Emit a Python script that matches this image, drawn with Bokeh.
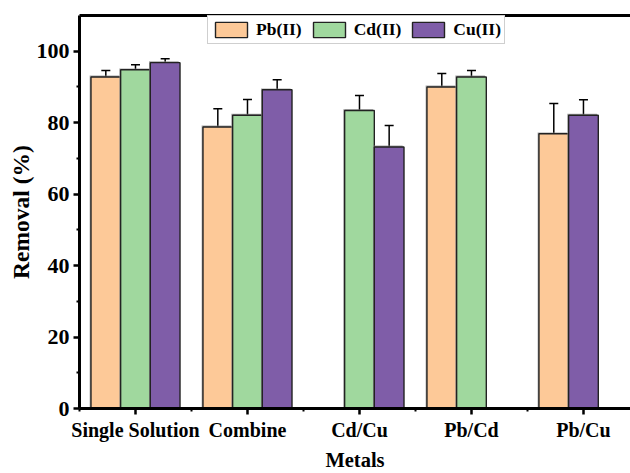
from bokeh.plotting import figure
from bokeh.models import (ColumnDataSource, FixedTicker, LinearAxis, Range1d,
                          Whisker, TeeHead, Legend, LegendItem)
from bokeh.embed import file_html
from bokeh.resources import INLINE

# Removal efficiency (%) per metal for each solution type, with error bars
categories = ["Single Solution", "Combine", "Cd/Cu", "Pb/Cd", "Pb/Cu"]
series_names = ["Pb(II)", "Cd(II)", "Cu(II)"]
pb_removal = [92.8, 78.8, None, 90.0, 76.9]
pb_error = [1.8, 5.1, None, 3.8, 8.5]
cd_removal = [94.8, 82.1, 83.4, 92.8, None]
cd_error = [1.4, 4.4, 4.2, 1.8, None]
cu_removal = [96.8, 89.2, 73.2, None, 82.1]
cu_error = [1.1, 2.8, 6.0, None, 4.3]
y_ticks = [0, 20, 40, 60, 80, 100]
y_minor_ticks = [10, 30, 50, 70, 90]

colors = ["#FDC998", "#A0D89E", "#7F5DA8"]
FONT = "Liberation Serif"
BAR_W = 0.265

values = [pb_removal, cd_removal, cu_removal]
errors = [pb_error, cd_error, cu_error]

# bars fill slots left to right; groups without Pb start at the centre slot
slot_of = [dict() for _ in series_names]
for ci in range(len(categories)):
    present = [si for si in range(3) if values[si][ci] is not None]
    start = -1 if values[0][ci] is not None else 0
    for k, si in enumerate(present):
        slot_of[si][ci] = start + k

p = figure(width=630, height=473,
           x_range=Range1d(0.5, 5.42), y_range=Range1d(0, 110),
           output_backend="svg", toolbar_location=None,
           min_border_left=79, min_border_right=0,
           min_border_top=15, min_border_bottom=65)
p.grid.visible = False
p.outline_line_color = None
p.background_fill_color = "white"

# small drop-shadow offsets (about 1.3 px up-left)
SHADOW_DX = -0.012
SHADOW_DY = 0.38

renderers = []
for si in range(3):
    xs, tops, ups, los = [], [], [], []
    for ci in range(len(categories)):
        v = values[si][ci]
        if v is None:
            continue
        x = (ci + 1) + slot_of[si][ci] * BAR_W
        xs.append(x)
        tops.append(v)
        ups.append(v + errors[si][ci])
        los.append(v - errors[si][ci])
    src = ColumnDataSource(dict(x=xs, top=tops, upper=ups, lower=los,
                                sx=[x + SHADOW_DX for x in xs],
                                stop=[t + SHADOW_DY for t in tops]))
    p.vbar(x="sx", top="stop", bottom=0, width=BAR_W, source=src,
           fill_color="#8a8a8a", fill_alpha=0.75, line_color=None)
    r = p.vbar(x="x", top="top", bottom=0, width=BAR_W, source=src,
               fill_color=colors[si], line_color="#222222", line_width=1.4)
    renderers.append(r)
    w = Whisker(source=src, base="x", upper="upper", lower="lower",
                line_color="black", line_width=1.5,
                upper_head=TeeHead(size=9, line_color="black", line_width=1.5),
                lower_head=TeeHead(size=9, line_color="black", line_width=1.5))
    p.add_layout(w)

# axes
for ax in (p.xaxis[0], p.yaxis[0]):
    ax.axis_line_width = 3
    ax.axis_line_color = "black"
    ax.major_tick_line_width = 2.5
    ax.major_tick_in = 0
    ax.major_tick_out = 6
    ax.minor_tick_line_width = 2
    ax.minor_tick_in = 0
    ax.minor_tick_out = 3
    ax.major_label_text_font = FONT
    ax.major_label_text_font_style = "bold"
    ax.major_label_text_color = "black"
    ax.axis_label_text_font = FONT
    ax.axis_label_text_font_style = "bold"
    ax.axis_label_text_color = "black"

p.xaxis.ticker = FixedTicker(ticks=list(range(1, len(categories) + 1)),
                             minor_ticks=[i + 0.5 for i in range(len(categories) + 1)])
p.xaxis.major_label_overrides = {i + 1: c for i, c in enumerate(categories)}
p.xaxis.major_label_text_font_size = "20px"
p.xaxis.major_label_standoff = 4
p.xaxis.axis_label = "Metals"
p.xaxis.axis_label_text_font_size = "20.5px"
p.xaxis.axis_label_standoff = 5

p.yaxis.ticker = FixedTicker(ticks=y_ticks, minor_ticks=y_minor_ticks)
p.yaxis.major_label_text_font_size = "22px"
p.yaxis.major_label_standoff = 4
p.yaxis.axis_label = "Removal (%)"
p.yaxis.axis_label_text_font_size = "23.5px"
p.yaxis.axis_label_standoff = 0

# top frame line
top_axis = LinearAxis(ticker=FixedTicker(ticks=[]), axis_line_width=3,
                      axis_line_color="black", major_tick_line_color=None,
                      minor_tick_line_color=None, major_label_text_font_size="0px")
p.add_layout(top_axis, "above")

legend = Legend(items=[LegendItem(label=n, renderers=[r])
                       for n, r in zip(series_names, renderers)],
                orientation="horizontal", location=(128, 364),
                label_text_font=FONT, label_text_font_style="bold",
                label_text_font_size="17.5px", label_text_color="black",
                label_height=20, label_text_baseline="middle",
                glyph_width=40, glyph_height=19, label_standoff=5,
                spacing=7, padding=3, margin=0,
                border_line_color="#a0a0a0", border_line_width=1.5,
                background_fill_color="white", background_fill_alpha=1)
p.add_layout(legend)

open("out.html", "w").write(file_html(p, INLINE))
